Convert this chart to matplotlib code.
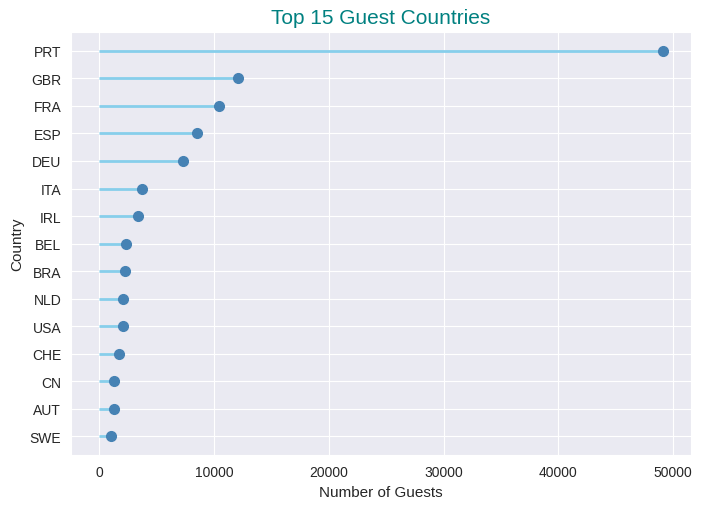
import matplotlib.pyplot as plt
import seaborn as sns

countries = ["PRT", "GBR", "FRA", "ESP", "DEU", "ITA", "IRL", "BEL",
             "BRA", "NLD", "USA", "CHE", "CN", "AUT", "SWE"]
guests = [49078, 12129, 10415, 8568, 7287, 3766, 3375, 2342,
          2224, 2104, 2097, 1730, 1279, 1263, 1024]

sns.set_style("darkgrid")
plt.rcParams['font.family'] = ['Liberation Sans', 'DejaVu Sans']

# reverse so the biggest sits on top
countries_r = countries[::-1]
guests_r = guests[::-1]

fig, ax = plt.subplots(figsize=(7.02, 5.10), dpi=100)
ax.hlines(y=countries_r, xmin=0, xmax=guests_r, color="skyblue", linewidth=2)
ax.plot(guests_r, countries_r, "o", color="steelblue", markersize=7)

ax.set_title("Top 15 Guest Countries", fontsize=15, color="teal")
ax.set_xlabel("Number of Guests", fontsize=11)
ax.set_ylabel("Country", fontsize=11)
ax.tick_params(labelsize=10)

fig.subplots_adjust(left=0.101, right=0.984, top=0.936, bottom=0.105)
fig.savefig("out.png", dpi=100)
